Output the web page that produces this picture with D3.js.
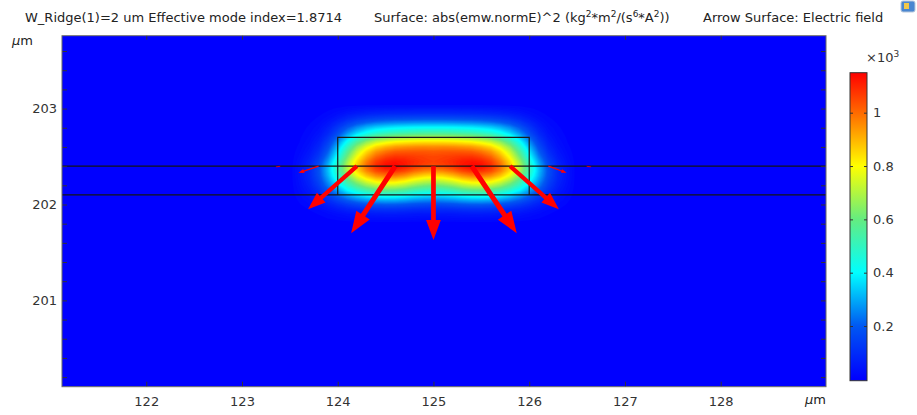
<!DOCTYPE html>
<html>
<head>
<meta charset="utf-8">
<title>Mode field</title>
<script src="https://d3js.org/d3.v7.min.js"></script>
<style>
	body { margin: 0; background: #fff; }
	svg text { font-family: "DejaVu Sans", sans-serif; font-size: 13px; fill: #222; }
	.axis text { fill: #333; }
	.axis line { stroke: #333; }
	.axis path { display: none; }
</style>
</head>
<body>
<script>

//Field read off the picture as two parts (slab part and ridge part),
//values in 1e3 kg^2*m^2/(s^6*A^2)
var fieldX = [123.5, 123.6, 123.7, 123.8, 123.9, 124.0, 124.1, 124.2, 124.3, 124.4, 124.5,
	124.6, 124.7, 124.8, 124.9, 125.0, 125.1, 125.2, 125.3, 125.4, 125.5, 125.6, 125.7,
	125.8, 125.9, 126.0, 126.1, 126.2, 126.3, 126.4, 126.5];
var xSlab = [0, 0.04, 0.09, 0.18, 0.32, 0.48, 0.64, 0.77, 0.87, 0.94, 0.97,
	0.96, 0.92, 0.86, 0.82, 0.80, 0.82, 0.86, 0.92, 0.96, 0.97, 0.94, 0.87,
	0.77, 0.64, 0.48, 0.32, 0.18, 0.09, 0.04, 0];
var xRidge = [0, 0.01, 0.03, 0.07, 0.16, 0.31, 0.49, 0.65, 0.77, 0.86, 0.91,
	0.95, 0.97, 0.99, 1.0, 1.0, 1.0, 0.99, 0.97, 0.95, 0.91, 0.86, 0.77,
	0.65, 0.49, 0.31, 0.16, 0.07, 0.03, 0.01, 0];
var fieldY = [201.80, 201.85, 201.90, 201.95, 202.00, 202.05, 202.10, 202.15, 202.20,
	202.25, 202.30, 202.35, 202.40, 202.45, 202.50, 202.55, 202.60, 202.65, 202.70,
	202.75, 202.80, 202.85, 202.90, 202.95, 203.00, 203.05];
var ySlab = [0, 0.03, 0.06, 0.12, 0.21, 0.33, 0.47, 0.62, 0.76,
	0.86, 0.92, 0.91, 0.80, 0.60, 0.40, 0.24, 0.12, 0.05, 0.02,
	0, 0, 0, 0, 0, 0, 0];
var yRidge = [0, 0, 0, 0, 0, 0, 0, 0, 0,
	0.03, 0.10, 0.22, 0.40, 0.58, 0.73, 0.83, 0.86, 0.80, 0.67,
	0.53, 0.41, 0.28, 0.17, 0.09, 0.04, 0];

//Electric field arrows along the slab/ridge interface (vector in um on screen)
var arrowBaseY = 202.4;
var arrowX = [123.4, 123.8, 124.2, 124.6, 125.0, 125.4, 125.8, 126.2, 126.6];
var arrowU = [-0.05, -0.21, -0.51, -0.46, 0, 0.47, 0.51, 0.19, 0.05];
var arrowV = [-0.01, -0.07, -0.45, -0.70, -0.77, -0.70, -0.45, -0.07, -0.01];

//Geometry
var layerY = [202.1, 202.4];
var ridgeX = [124, 126];
var ridgeTop = 202.7;

//Axes and colour legend
var xTicks = [122, 123, 124, 125, 126, 127, 128];
var yTicks = [200.2, 200.4, 200.6, 200.8, 201, 201.2, 201.4, 201.6, 201.8, 202, 202.2,
	202.4, 202.6, 202.8, 203, 203.2, 203.4, 203.6];
var cbTicks = [0.2, 0.4, 0.6, 0.8, 1];
var colorStops = [0, 0.2, 0.4, 0.6, 0.8, 1.0, 1.15];
var colorValues = ["#0000ff", "#0058f2", "#00ffff", "#64ec80", "#ffff00", "#ff6a00", "#ff0000"];

var w = 917, h = 415;
var plot = { left: 62, right: 826, top: 35.7, bottom: 386.7 };

var x = d3.scaleLinear().domain([121.12, 129.1]).range([plot.left, plot.right]);
var y = d3.scaleLinear().domain([200.10, 203.76]).range([plot.bottom, plot.top]);
var color = d3.scaleLinear().domain(colorStops).range(colorValues).clamp(true);

var svg = d3.select("body").append("svg")
	.attr("width", w)
	.attr("height", h);

svg.append("clipPath").attr("id", "clip")
	.append("rect")
	.attr("x", plot.left).attr("y", plot.top)
	.attr("width", plot.right - plot.left)
	.attr("height", plot.bottom - plot.top);

var field = svg.append("g").attr("clip-path", "url(#clip)");

field.append("rect")
	.attr("x", plot.left).attr("y", plot.top)
	.attr("width", plot.right - plot.left)
	.attr("height", plot.bottom - plot.top)
	.attr("fill", color(0));

//Surface: grid built from the two parts, drawn as filled contour bands
var nx = fieldX.length, ny = fieldY.length;
var grid = new Array(nx * ny);
for (var j = 0; j < ny; j++) {
	for (var i = 0; i < nx; i++) {
		grid[j * nx + i] = xSlab[i] * ySlab[j] + xRidge[i] * yRidge[j];
	}
}

var step = 0.01;
var thresholds = d3.range(step, 1.15, step);
var bands = d3.contours().size([nx, ny]).thresholds(thresholds)(grid);

var sx = fieldX[1] - fieldX[0], sy = fieldY[1] - fieldY[0];
var gridPath = d3.geoPath(d3.geoTransform({
	point: function(gx, gy) {
		this.stream.point(x(fieldX[0] + (gx - 0.5) * sx), y(fieldY[0] + (gy - 0.5) * sy));
	}
}));

field.selectAll("path.band")
	.data(bands)
	.enter()
	.append("path")
	.attr("class", "band")
	.attr("d", gridPath)
	.attr("fill", function(d) { return color(d.value + step / 2); });

//Layer boundaries and ridge outline
field.selectAll("line.layer")
	.data(layerY)
	.enter()
	.append("line")
	.attr("x1", plot.left).attr("x2", plot.right)
	.attr("y1", function(d) { return y(d); })
	.attr("y2", function(d) { return y(d); })
	.attr("stroke", "#151515")
	.attr("stroke-width", 1.3);

field.append("path")
	.attr("d", d3.line()([
		[x(ridgeX[0]), y(layerY[0])],
		[x(ridgeX[0]), y(ridgeTop)],
		[x(ridgeX[1]), y(ridgeTop)],
		[x(ridgeX[1]), y(layerY[0])]
	]))
	.attr("fill", "none")
	.attr("stroke", "#1a1a1a")
	.attr("stroke-width", 1.2);

//Arrows
function arrowShape(d) {
	var x0 = x(d.x), y0 = y(arrowBaseY);
	var x1 = x(d.x + d.u), y1 = y(arrowBaseY + d.v);
	var L = Math.hypot(x1 - x0, y1 - y0);
	if (L < 0.5) return null;
	var ux = (x1 - x0) / L, uy = (y1 - y0) / L;
	var px = -uy, py = ux;
	var hw = Math.max(0.032 * L, 0.4), hl = 0.27 * L, hh = 0.1 * L;
	var bx = x1 - ux * hl, by = y1 - uy * hl;
	return d3.line()([
		[x0 + px * hw, y0 + py * hw],
		[bx + px * hw, by + py * hw],
		[bx + px * hh, by + py * hh],
		[x1, y1],
		[bx - px * hh, by - py * hh],
		[bx - px * hw, by - py * hw],
		[x0 - px * hw, y0 - py * hw]
	]) + "Z";
}

field.selectAll("path.arrow")
	.data(arrowX.map(function(v, k) { return { x: v, u: arrowU[k], v: arrowV[k] }; }))
	.enter()
	.append("path")
	.attr("class", "arrow")
	.attr("d", arrowShape)
	.attr("fill", "#ff0000");

//Axes, ticks inside the frame
svg.append("g").attr("class", "axis")
	.attr("transform", "translate(" + plot.left + ",0)")
	.call(d3.axisLeft(y).tickValues(yTicks).tickSize(-5).tickPadding(5)
		.tickFormat(function(d) { return Math.abs(d - Math.round(d)) < 1e-6 ? d3.format("d")(d) : ""; }));

svg.append("g").attr("class", "axis")
	.attr("transform", "translate(" + plot.right + ",0)")
	.call(d3.axisRight(y).tickValues(yTicks).tickSize(-5).tickFormat(""));

svg.append("g").attr("class", "axis")
	.attr("transform", "translate(0," + plot.bottom + ")")
	.call(d3.axisBottom(x).tickValues(xTicks).tickSize(-5).tickPadding(10).tickFormat(d3.format("d")));

svg.append("g").attr("class", "axis")
	.attr("transform", "translate(0," + plot.top + ")")
	.call(d3.axisTop(x).tickValues(xTicks).tickSize(-4).tickFormat(""));

svg.selectAll(".axis text").style("font-size", "13px");

svg.append("rect")
	.attr("x", plot.left).attr("y", plot.top)
	.attr("width", plot.right - plot.left)
	.attr("height", plot.bottom - plot.top)
	.attr("fill", "none")
	.attr("stroke", "#666")
	.attr("stroke-width", 1);

//Unit labels
var um1 = svg.append("text").attr("x", 12).attr("y", 45);
um1.append("tspan").attr("font-style", "italic").text("\u03bc");
um1.append("tspan").text("m");

var um2 = svg.append("text").attr("x", 805).attr("y", 404);
um2.append("tspan").attr("font-style", "italic").text("\u03bc");
um2.append("tspan").text("m");

//Title line
svg.append("text").attr("x", 25).attr("y", 22)
	.text("W_Ridge(1)=2 um Effective mode index=1.8714");

var titleParts = [
	["Surface: abs(emw.normE)^2 (kg", false], ["2", true], ["*m", false], ["2", true],
	["/(s", false], ["6", true], ["*A", false], ["2", true], ["))", false]
];
var t2 = svg.append("text").attr("x", 374).attr("y", 22);
titleParts.forEach(function(p, k) {
	var ts = t2.append("tspan").text(p[0]);
	if (p[1]) {
		ts.attr("dy", -5).attr("font-size", "9px");
	} else if (k > 0) {
		ts.attr("dy", 5);
	}
});

svg.append("text").attr("x", 703).attr("y", 22)
	.text("Arrow Surface: Electric field");

//Small window icon, top right corner
svg.append("rect").attr("x", 901).attr("y", 1).attr("width", 14).attr("height", 11)
	.attr("rx", 2).attr("fill", "#4a86d0").attr("stroke", "#b8c8dc");
svg.append("rect").attr("x", 904).attr("y", 3).attr("width", 5).attr("height", 6)
	.attr("fill", "#f2c84a");

//Colour legend
var cb = { left: 850, right: 867, top: 72.7, bottom: 380.7 };
var cbScale = d3.scaleLinear().domain([-0.005, 1.15]).range([cb.bottom, cb.top]);

var grad = svg.append("defs").append("linearGradient")
	.attr("id", "cbgrad")
	.attr("x1", 0).attr("y1", 1).attr("x2", 0).attr("y2", 0);
grad.selectAll("stop")
	.data(colorStops)
	.enter()
	.append("stop")
	.attr("offset", function(d) { return (cb.bottom - cbScale(d)) / (cb.bottom - cb.top); })
	.attr("stop-color", function(d) { return color(d); });

svg.append("rect")
	.attr("x", cb.left).attr("y", cb.top)
	.attr("width", cb.right - cb.left)
	.attr("height", cb.bottom - cb.top)
	.attr("fill", "url(#cbgrad)")
	.attr("stroke", "#333")
	.attr("stroke-width", 1);

svg.append("g").attr("class", "axis")
	.attr("transform", "translate(" + cb.left + ",0)")
	.call(d3.axisRight(cbScale).tickValues(cbTicks).tickSize(3).tickFormat(""));

svg.append("g").attr("class", "axis")
	.attr("transform", "translate(" + cb.right + ",0)")
	.call(d3.axisLeft(cbScale).tickValues(cbTicks).tickSize(3).tickFormat(""));

svg.selectAll("text.cblabel")
	.data(cbTicks)
	.enter()
	.append("text")
	.attr("class", "cblabel")
	.attr("x", cb.right + 6)
	.attr("y", function(d) { return cbScale(d); })
	.attr("dy", "0.35em")
	.style("fill", "#333")
	.text(function(d) { return d3.format("~g")(d); });

var exp = svg.append("text").attr("x", 866).attr("y", 62).style("fill", "#333");
exp.append("tspan").text("\u00d710");
exp.append("tspan").attr("dy", -5).attr("font-size", "9px").text("3");

</script>
</body>
</html>
